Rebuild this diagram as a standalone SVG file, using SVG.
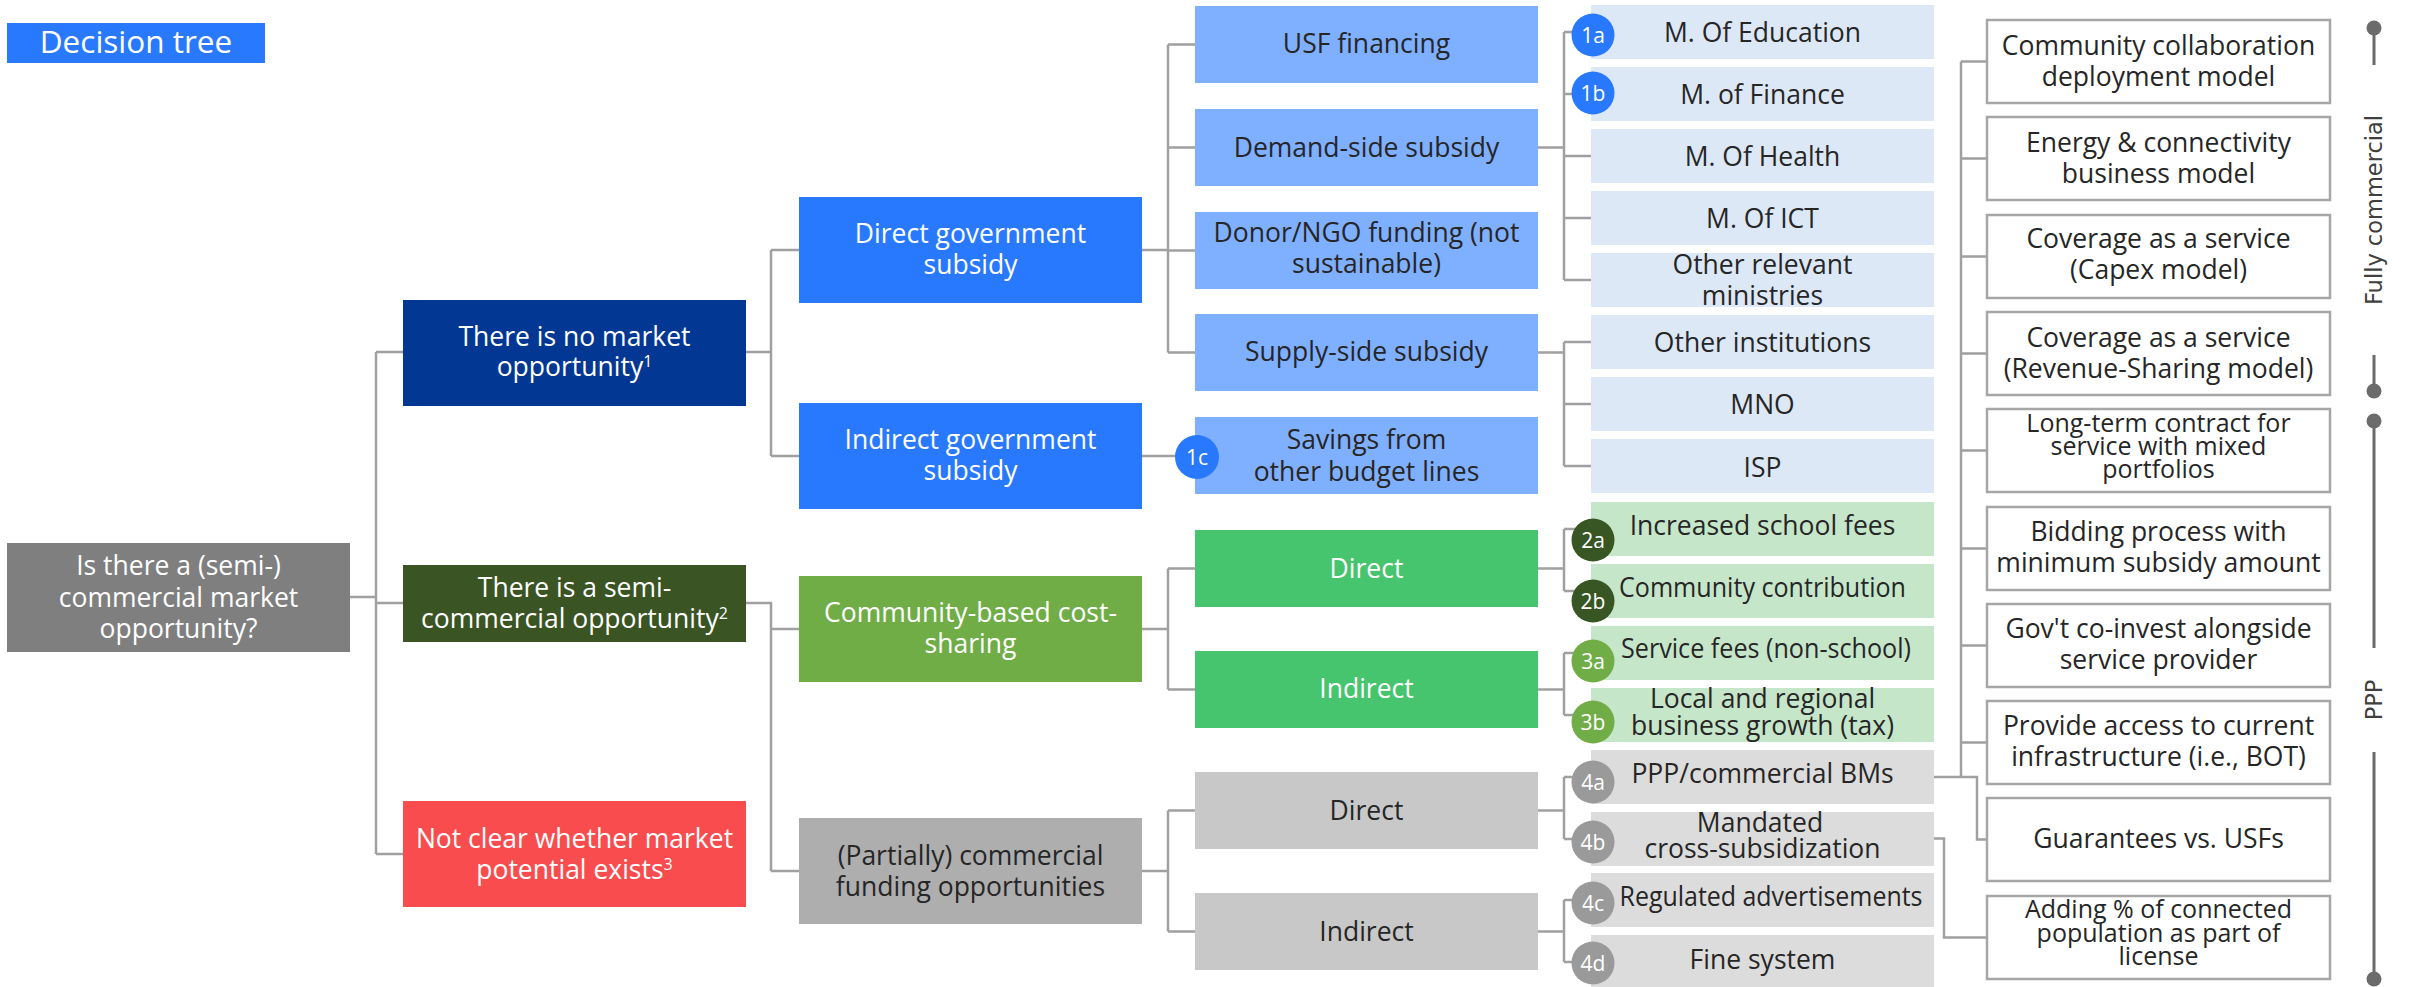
<svg xmlns="http://www.w3.org/2000/svg" width="2415" height="987" viewBox="0 0 2415 987">
<style>
text { font-family: "Open Sans", "Liberation Sans", sans-serif; font-size: 26.5px; text-anchor: middle; }
.w { fill: #ffffff; }
.d { fill: #262626; }
.t3 { font-size: 25px; }
.conn { fill: none; stroke: #a0a0a0; stroke-width: 2.5; }
.rb { fill: #ffffff; stroke: #a6a6a6; stroke-width: 2.5; }
.num { font-size: 21px; fill: #ffffff; }
.sup { font-size: 16px; }
.side { font-family: "DejaVu Sans", "Open Sans", sans-serif; font-size: 22.5px; fill: #404040; }
.mk { stroke: #6b6b6b; stroke-width: 3; fill: none; }
.dot { fill: #6b6b6b; }
.l3b { fill: #7fafff; }
.l4b { fill: #dde8f6; }
.l4g { fill: #c6e6ca; }
.l4x { fill: #dcdcdc; }
.c1 { fill: #2979ff; }
.c2 { fill: #375623; }
.c3 { fill: #70ad47; }
.c4 { fill: #9a9a9a; }
</style>

<g id="title">
<rect x="7" y="23" width="258" height="40" fill="#2979ff"/>
<text x="136" y="53" class="w" style="font-size:31.5px">Decision tree</text>
</g>

<g id="connectors" class="conn">
<path d="M350,597 H376 M376,352 V854 M376,352 H403 M376,603 H403 M376,854 H403"/>
<path d="M746,352 H771 M771,250 V456 M771,250 H799 M771,456 H799"/>
<path d="M746,603 H771 V871 M771,629 H799 M771,871 H799"/>
<path d="M1142,250 H1168 M1168,44.5 V352.5 M1168,44.5 H1195 M1168,147.5 H1195 M1168,250.5 H1195 M1168,352.5 H1195"/>
<path d="M1142,456 H1195"/>
<path d="M1142,629 H1168 M1168,568.5 V689.5 M1168,568.5 H1195 M1168,689.5 H1195"/>
<path d="M1142,871 H1168 M1168,810.5 V931.5 M1168,810.5 H1195 M1168,931.5 H1195"/>
<path d="M1538,147.5 H1564 M1564,32 V280 M1564,32 H1591 M1564,94 H1591 M1564,156 H1591 M1564,218 H1591 M1564,280 H1591"/>
<path d="M1538,352.5 H1564 M1564,342 V466 M1564,342 H1591 M1564,404 H1591 M1564,466 H1591"/>
<path d="M1538,568.5 H1564 M1564,529 V591 M1564,529 H1591 M1564,591 H1591"/>
<path d="M1538,689.5 H1564 M1564,653 V715 M1564,653 H1591 M1564,715 H1591"/>
<path d="M1538,810.5 H1564 M1564,777 V839 M1564,777 H1591 M1564,839 H1591"/>
<path d="M1538,931.5 H1564 M1564,900 V962 M1564,900 H1591 M1564,962 H1591"/>
<path d="M1934,777 H1977 V839.5 H1987 M1961,61.5 V777 M1961,61.5 H1987 M1961,158.5 H1987 M1961,256.5 H1987 M1961,353.5 H1987 M1961,450.5 H1987 M1961,548.5 H1987 M1961,645.5 H1987 M1961,742.5 H1987"/>
<path d="M1934,838.5 H1944 V937.5 H1987"/>
</g>

<g id="root">
<rect x="7" y="543" width="343" height="109" fill="#7f7f7f"/>
<text x="178.5" y="575" class="w">Is there a (semi-)</text>
<text x="178.5" y="607" class="w">commercial market</text>
<text x="178.5" y="638" class="w">opportunity?</text>
</g>

<g id="no-market">
<rect x="403" y="300" width="343" height="106" fill="#023894"/>
<text x="574.5" y="346" class="w">There is no market</text>
<text x="574.5" y="376" class="w">opportunity<tspan class="sup" dy="-9">1</tspan></text>
</g>
<g id="semi-commercial">
<rect x="403" y="565" width="343" height="77" fill="#3a5423"/>
<text x="574.5" y="597" class="w">There is a semi-</text>
<text x="574.5" y="628" class="w">commercial opportunity<tspan class="sup" dy="-9">2</tspan></text>
</g>
<g id="not-clear">
<rect x="403" y="801" width="343" height="106" fill="#f84c4e"/>
<text x="574.5" y="848" class="w">Not clear whether market</text>
<text x="574.5" y="879" class="w">potential exists<tspan class="sup" dy="-9">3</tspan></text>
</g>

<g id="direct-gov">
<rect x="799" y="197" width="343" height="106" fill="#2979ff"/>
<text x="970.5" y="243" class="w">Direct government</text>
<text x="970.5" y="274" class="w">subsidy</text>
</g>
<g id="indirect-gov">
<rect x="799" y="403" width="343" height="106" fill="#2979ff"/>
<text x="970.5" y="449" class="w">Indirect government</text>
<text x="970.5" y="480" class="w">subsidy</text>
</g>
<g id="community-cost">
<rect x="799" y="576" width="343" height="106" fill="#70ad47"/>
<text x="970.5" y="622" class="w">Community-based cost-</text>
<text x="970.5" y="653" class="w">sharing</text>
</g>
<g id="partially-commercial">
<rect x="799" y="818" width="343" height="106" fill="#aeaeae"/>
<text x="970.5" y="865" class="d">(Partially) commercial</text>
<text x="970.5" y="896" class="d">funding opportunities</text>
</g>

<g id="usf">
<rect x="1195" y="6" width="343" height="77" class="l3b"/>
<text x="1366.5" y="53" class="d">USF financing</text>
</g>
<g id="demand">
<rect x="1195" y="109" width="343" height="77" class="l3b"/>
<text x="1366.5" y="157" class="d">Demand-side subsidy</text>
</g>
<g id="donor">
<rect x="1195" y="212" width="343" height="77" class="l3b"/>
<text x="1366.5" y="242" class="d">Donor/NGO funding (not</text>
<text x="1366.5" y="273" class="d">sustainable)</text>
</g>
<g id="supply">
<rect x="1195" y="314" width="343" height="77" class="l3b"/>
<text x="1366.5" y="361" class="d">Supply-side subsidy</text>
</g>
<g id="savings">
<rect x="1195" y="417" width="343" height="77" class="l3b"/>
<text x="1366.5" y="449" class="d">Savings from</text>
<text x="1366.5" y="481" class="d">other budget lines</text>
<circle cx="1197" cy="457" r="22" class="c1"/>
<text x="1197" y="464.5" class="num">1c</text>
</g>
<g id="cs-direct">
<rect x="1195" y="530" width="343" height="77" fill="#46c46e"/>
<text x="1366.5" y="578" class="w">Direct</text>
</g>
<g id="cs-indirect">
<rect x="1195" y="651" width="343" height="77" fill="#46c46e"/>
<text x="1366.5" y="698" class="w">Indirect</text>
</g>
<g id="pc-direct">
<rect x="1195" y="772" width="343" height="77" fill="#c8c8c8"/>
<text x="1366.5" y="820" class="d">Direct</text>
</g>
<g id="pc-indirect">
<rect x="1195" y="893" width="343" height="77" fill="#c8c8c8"/>
<text x="1366.5" y="941" class="d">Indirect</text>
</g>

<g id="education">
<rect x="1591" y="5" width="343" height="54" class="l4b"/>
<text x="1762.5" y="42" class="d">M. Of Education</text>
<circle cx="1593" cy="35" r="21.5" class="c1"/>
<text x="1593" y="42.5" class="num">1a</text>
</g>
<g id="finance">
<rect x="1591" y="67" width="343" height="54" class="l4b"/>
<text x="1762.5" y="104" class="d">M. of Finance</text>
<circle cx="1593" cy="93" r="21.5" class="c1"/>
<text x="1593" y="100.5" class="num">1b</text>
</g>
<g id="health">
<rect x="1591" y="129" width="343" height="54" class="l4b"/>
<text x="1762.5" y="166" class="d">M. Of Health</text>
</g>
<g id="ict">
<rect x="1591" y="191" width="343" height="54" class="l4b"/>
<text x="1762.5" y="228" class="d">M. Of ICT</text>
</g>
<g id="other-ministries">
<rect x="1591" y="253" width="343" height="54" class="l4b"/>
<text x="1762.5" y="274" class="d">Other relevant</text>
<text x="1762.5" y="305" class="d">ministries</text>
</g>
<g id="other-institutions">
<rect x="1591" y="315" width="343" height="54" class="l4b"/>
<text x="1762.5" y="352" class="d">Other institutions</text>
</g>
<g id="mno">
<rect x="1591" y="377" width="343" height="54" class="l4b"/>
<text x="1762.5" y="414" class="d">MNO</text>
</g>
<g id="isp">
<rect x="1591" y="439" width="343" height="54" class="l4b"/>
<text x="1762.5" y="477" class="d">ISP</text>
</g>
<g id="school-fees">
<rect x="1591" y="502" width="343" height="54" class="l4g"/>
<text x="1762.5" y="535" class="d">Increased school fees</text>
<circle cx="1593" cy="540" r="21.5" class="c2"/>
<text x="1593" y="547.5" class="num">2a</text>
</g>
<g id="community-contribution">
<rect x="1591" y="564" width="343" height="54" class="l4g"/>
<text x="1762.5" y="597" class="d" textLength="287" lengthAdjust="spacingAndGlyphs">Community contribution</text>
<circle cx="1593" cy="601" r="21.5" class="c2"/>
<text x="1593" y="608.5" class="num">2b</text>
</g>
<g id="service-fees">
<rect x="1591" y="626" width="343" height="54" class="l4g"/>
<text x="1766" y="658" class="d" textLength="290" lengthAdjust="spacingAndGlyphs">Service fees (non-school)</text>
<circle cx="1593" cy="661" r="21.5" class="c3"/>
<text x="1593" y="668.5" class="num">3a</text>
</g>
<g id="business-growth">
<rect x="1591" y="688" width="343" height="54" class="l4g"/>
<text x="1762.5" y="708" class="d">Local and regional</text>
<text x="1762.5" y="735" class="d">business growth (tax)</text>
<circle cx="1593" cy="722" r="21.5" class="c3"/>
<text x="1593" y="729.5" class="num">3b</text>
</g>
<g id="ppp-bms">
<rect x="1591" y="750" width="343" height="54" class="l4x"/>
<text x="1762.5" y="783" class="d">PPP/commercial BMs</text>
<circle cx="1593" cy="782" r="21.5" class="c4"/>
<text x="1593" y="789.5" class="num">4a</text>
</g>
<g id="cross-subsidization">
<rect x="1591" y="812" width="343" height="54" class="l4x"/>
<text x="1760" y="832" class="d">Mandated</text>
<text x="1762.5" y="858" class="d">cross-subsidization</text>
<circle cx="1593" cy="842" r="21.5" class="c4"/>
<text x="1593" y="849.5" class="num">4b</text>
</g>
<g id="advertisements">
<rect x="1591" y="873" width="343" height="54" class="l4x"/>
<text x="1771" y="906" class="d" textLength="303" lengthAdjust="spacingAndGlyphs">Regulated advertisements</text>
<circle cx="1593" cy="903" r="21.5" class="c4"/>
<text x="1593" y="910.5" class="num">4c</text>
</g>
<g id="fine-system">
<rect x="1591" y="935" width="343" height="54" class="l4x"/>
<text x="1762.5" y="969" class="d">Fine system</text>
<circle cx="1593" cy="963" r="21.5" class="c4"/>
<text x="1593" y="970.5" class="num">4d</text>
</g>

<g id="m1">
<rect x="1987" y="20" width="343" height="83" class="rb"/>
<text x="2158.5" y="55" class="d">Community collaboration</text>
<text x="2158.5" y="86" class="d">deployment model</text>
</g>
<g id="m2">
<rect x="1987" y="117" width="343" height="83" class="rb"/>
<text x="2158.5" y="152" class="d">Energy &amp; connectivity</text>
<text x="2158.5" y="183" class="d">business model</text>
</g>
<g id="m3">
<rect x="1987" y="215" width="343" height="83" class="rb"/>
<text x="2158.5" y="248" class="d">Coverage as a service</text>
<text x="2158.5" y="279" class="d">(Capex model)</text>
</g>
<g id="m4">
<rect x="1987" y="312" width="343" height="83" class="rb"/>
<text x="2158.5" y="347" class="d">Coverage as a service</text>
<text x="2158.5" y="378" class="d">(Revenue-Sharing model)</text>
</g>
<g id="m5">
<rect x="1987" y="409" width="343" height="83" class="rb"/>
<text x="2158.5" y="432" class="d t3">Long-term contract for</text>
<text x="2158.5" y="455" class="d t3">service with mixed</text>
<text x="2158.5" y="478" class="d t3">portfolios</text>
</g>
<g id="m6">
<rect x="1987" y="507" width="343" height="83" class="rb"/>
<text x="2158.5" y="541" class="d">Bidding process with</text>
<text x="2158.5" y="572" class="d">minimum subsidy amount</text>
</g>
<g id="m7">
<rect x="1987" y="604" width="343" height="83" class="rb"/>
<text x="2158.5" y="638" class="d">Gov't co-invest alongside</text>
<text x="2158.5" y="669" class="d">service provider</text>
</g>
<g id="m8">
<rect x="1987" y="701" width="343" height="83" class="rb"/>
<text x="2158.5" y="735" class="d">Provide access to current</text>
<text x="2158.5" y="766" class="d">infrastructure (i.e., BOT)</text>
</g>
<g id="m9">
<rect x="1987" y="798" width="343" height="83" class="rb"/>
<text x="2158.5" y="848" class="d">Guarantees vs. USFs</text>
</g>
<g id="m10">
<rect x="1987" y="896" width="343" height="83" class="rb"/>
<text x="2158.5" y="918" class="d t3">Adding % of connected</text>
<text x="2158.5" y="942" class="d t3">population as part of</text>
<text x="2158.5" y="965" class="d t3">license</text>
</g>

<g id="scale">
<path class="mk" d="M2374,28 V65 M2374,355 V391 M2374,421 V648 M2374,752 V979"/>
<circle cx="2374" cy="28" r="7.5" class="dot"/>
<circle cx="2374" cy="391" r="7.5" class="dot"/>
<circle cx="2374" cy="421" r="7.5" class="dot"/>
<circle cx="2374" cy="979" r="7.5" class="dot"/>
<text class="side" transform="translate(2382,210) rotate(-90)">Fully commercial</text>
<text class="side" transform="translate(2382,700) rotate(-90)">PPP</text>
</g>
</svg>
